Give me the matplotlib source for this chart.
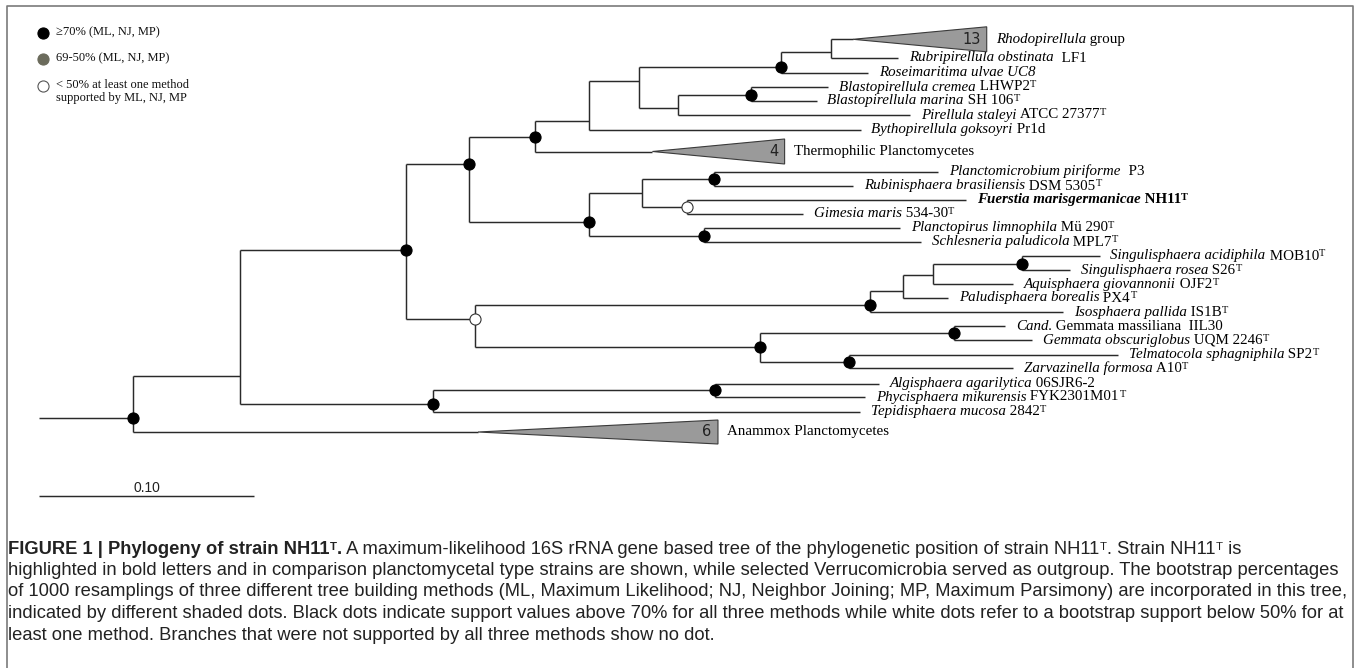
import matplotlib
matplotlib.use("Agg")
import matplotlib.pyplot as plt
from matplotlib.patches import Polygon

W, H = 1358, 668
UNIT = 2150.0   # pixels per substitution/site (0.10 bar = 215 px)
X0 = 39.0       # pixel where the root stem starts

# internal nodes: depth (subst./site from stem start), row, parent, bootstrap class
node_name = ["root", "n240", "n433", "n715", "n406", "n469", "n535", "n589a",
             "n639", "n781", "n831", "n678", "n751", "n589b", "n642", "n714",
             "n686", "n704", "n475", "n869", "n903", "n933", "n1021", "n760",
             "n954", "n849"]
node_depth = [0.0435, 0.0935, 0.1833, 0.3144, 0.1707, 0.2000, 0.2307, 0.2558,
              0.2791, 0.3451, 0.3684, 0.2972, 0.3312, 0.2558, 0.2805, 0.3140,
              0.3012, 0.3093, 0.2030, 0.3863, 0.4020, 0.4160, 0.4571, 0.3353,
              0.4256, 0.3767]
node_row = [417.5, 376, 403.5, 389.5, 250, 164.3, 136.7, 121,
            80.7, 66.7, 52.3, 108.3, 94.5, 221.7, 193.3, 179,
            207, 235.5, 318.5, 305.2, 291, 275, 263.6, 347,
            333.2, 361.5]
node_parent = [None, "root", "n240", "n433", "n240", "n406", "n469", "n535",
               "n589a", "n639", "n781", "n639", "n678", "n469", "n589b", "n642",
               "n642", "n589b", "n406", "n475", "n869", "n903", "n933", "n475",
               "n760", "n760"]
node_support = ["hi", "", "hi", "hi", "hi", "hi", "hi", "",
                "", "hi", "", "", "hi", "hi", "", "hi",
                "lo", "hi", "lo", "hi", "", "", "hi", "hi",
                "hi", "hi"]

# leaves
leaf_parent = ["n831", "n781", "n751", "n751", "n678", "n589a", "n714", "n714",
               "n686", "n686", "n704", "n704", "n1021", "n1021", "n933", "n903",
               "n869", "n954", "n954", "n849", "n849", "n715", "n715", "n433"]
leaf_row = [58, 73, 87, 100.5, 115, 129.5, 171.5, 186,
            199.5, 213.5, 227.8, 242, 256, 270.3, 284.2, 298,
            312.2, 326, 340.4, 354.6, 368, 383.5, 397, 411.5]
leaf_depth = [0.3997, 0.3857, 0.3671, 0.3617, 0.4053, 0.3821, 0.4183, 0.3786,
              0.4312, 0.3553, 0.4005, 0.4102, 0.4933, 0.4795, 0.4532, 0.4228,
              0.4763, 0.4493, 0.4619, 0.5019, 0.4530, 0.3907, 0.3842, 0.3819]
leaf_label = [
    [("Rubripirellula obstinata", "i"), ("  LF1", "r")],
    [("Roseimaritima ulvae UC8", "i")],
    [("Blastopirellula cremea", "i"), (" LHWP2", "r"), ("T", "sup")],
    [("Blastopirellula marina", "i"), (" SH 106", "r"), ("T", "sup")],
    [("Pirellula staleyi", "i"), (" ATCC 27377", "r"), ("T", "sup")],
    [("Bythopirellula goksoyri", "i"), (" Pr1d", "r")],
    [("Planctomicrobium piriforme", "i"), ("  P3", "r")],
    [("Rubinisphaera brasiliensis", "i"), (" DSM 5305", "r"), ("T", "sup")],
    [("Fuerstia marisgermanicae", "bi"), (" NH11", "b"), ("T", "supb")],
    [("Gimesia maris", "i"), (" 534-30", "r"), ("T", "sup")],
    [("Planctopirus limnophila", "i"), (" Mü 290", "r"), ("T", "sup")],
    [("Schlesneria paludicola", "i"), (" MPL7", "r"), ("T", "sup")],
    [("Singulisphaera acidiphila", "i"), (" MOB10", "r"), ("T", "sup")],
    [("Singulisphaera rosea", "i"), (" S26", "r"), ("T", "sup")],
    [("Aquisphaera giovannonii", "i"), (" OJF2", "r"), ("T", "sup")],
    [("Paludisphaera borealis", "i"), (" PX4", "r"), ("T", "sup")],
    [("Isosphaera pallida", "i"), (" IS1B", "r"), ("T", "sup")],
    [("Cand.", "i"), (" Gemmata massiliana  IIL30", "r")],
    [("Gemmata obscuriglobus", "i"), (" UQM 2246", "r"), ("T", "sup")],
    [("Telmatocola sphagniphila", "i"), (" SP2", "r"), ("T", "sup")],
    [("Zarvazinella formosa", "i"), (" A10", "r"), ("T", "sup")],
    [("Algisphaera agarilytica", "i"), (" 06SJR6-2", "r")],
    [("Phycisphaera mikurensis", "i"), (" FYK2301M01", "r"), ("T", "sup")],
    [("Tepidisphaera mucosa", "i"), (" 2842", "r"), ("T", "sup")],
]

# collapsed clades
clade_parent = ["n831", "n535", "root"]
clade_row = [39.3, 151.5, 432]
clade_apex = [0.3786, 0.2853, 0.2042]
clade_end = [0.4408, 0.3468, 0.3158]
clade_half = [12.5, 12.5, 12]
clade_count = ["13", "4", "6"]
clade_label = [
    [("Rhodopirellula", "i"), (" group", "r")],
    [("Thermophilic Planctomycetes", "r")],
    [("Anammox Planctomycetes", "r")],
]

legend_text = ["\u226570% (ML, NJ, MP)", "69-50% (ML, NJ, MP)",
               "< 50% at least one method\nsupported by ML, NJ, MP"]
legend_face = ["black", "#6b6b5c", "white"]

caption_lines = [
    "highlighted in bold letters and in comparison planctomycetal type strains are shown, while selected Verrucomicrobia served as outgroup. The bootstrap percentages",
    "of 1000 resamplings of three different tree building methods (ML, Maximum Likelihood; NJ, Neighbor Joining; MP, Maximum Parsimony) are incorporated in this tree,",
    "indicated by different shaded dots. Black dots indicate support values above 70% for all three methods while white dots refer to a bootstrap support below 50% for at",
    "least one method. Branches that were not supported by all three methods show no dot.",
]

LBL = 10.8
CAP = 13.2
styles = {
    "i": dict(family="Liberation Serif", style="italic", size=LBL),
    "r": dict(family="Liberation Serif", size=LBL),
    "b": dict(family="Liberation Serif", weight="bold", size=LBL),
    "bi": dict(family="Liberation Serif", weight="bold", style="italic", size=LBL),
    "sup": dict(family="Liberation Serif", size=7.5),
    "supb": dict(family="Liberation Serif", weight="bold", size=7.5),
    "c": dict(family="Liberation Sans", size=CAP, color="#222222"),
    "cb": dict(family="Liberation Sans", weight="bold", size=CAP, color="#222222"),
    "csup": dict(family="Liberation Sans", size=CAP * 0.62, color="#222222"),
    "csupb": dict(family="Liberation Sans", weight="bold", size=CAP * 0.62, color="#222222"),
}


def put_text(axis, x, y, parts, gap, rise=3.0):
    prev = base = None
    for txt, st in parts:
        kw = styles[st]
        sup = st.endswith("sup") or st.endswith("supb")
        if prev is None:
            t = axis.annotate(txt, xy=(x, y), xytext=(gap, 0), textcoords="offset points",
                              ha="left", va="center", annotation_clip=False, **kw)
        elif sup:
            t = axis.annotate(txt, xy=(1, 0), xycoords=(prev, base), xytext=(0.3, rise),
                              textcoords="offset points", ha="left", va="bottom", **kw)
        else:
            t = axis.annotate(txt, xy=(1, 0), xycoords=(prev, base), ha="left", va="bottom", **kw)
        if not sup:
            base = t
        prev = t


fig = plt.figure(figsize=(W / 100, H / 100), dpi=100)
lay = fig.add_axes([0, 0, 1, 1])
lay.set_xlim(0, W)
lay.set_ylim(H, 0)
lay.axis("off")
ax = fig.add_axes([0, 0, 1, 1])
ax.set_xlim(-X0 / UNIT, (W - X0) / UNIT)
ax.set_ylim(H, 0)
ax.axis("off")
ax.patch.set_alpha(0)

LC = "#2a2a2a"
LW = 1.05
depth = dict(zip(node_name, node_depth))
row = dict(zip(node_name, node_row))

# vertical bars of internal nodes
for name in node_name:
    rows = [row[n] for n, p in zip(node_name, node_parent) if p == name]
    rows += [r for r, p in zip(leaf_row, leaf_parent) if p == name]
    rows += [r for r, p in zip(clade_row, clade_parent) if p == name]
    ax.plot([depth[name]] * 2, [min(rows), max(rows)], color=LC, lw=LW, solid_capstyle="butt")

# horizontal branches to internal nodes
for name, par in zip(node_name, node_parent):
    start = 0.0 if par is None else depth[par]
    ax.plot([start, depth[name]], [row[name]] * 2, color=LC, lw=LW, solid_capstyle="butt")

# leaves
for par, r, d, lab in zip(leaf_parent, leaf_row, leaf_depth, leaf_label):
    ax.plot([depth[par], d], [r, r], color=LC, lw=LW, solid_capstyle="butt")
    put_text(ax, d, r, lab, gap=7.8)

# collapsed clades
for par, r, a, e, hh, cnt, lab in zip(clade_parent, clade_row, clade_apex, clade_end,
                                      clade_half, clade_count, clade_label):
    ax.plot([depth[par], a], [r, r], color=LC, lw=LW, solid_capstyle="butt")
    ax.add_patch(Polygon([(a, r), (e, r - hh), (e, r + hh)], closed=True,
                         facecolor="#9a9a9a", edgecolor="#3a3a3a", lw=0.8, zorder=3))
    ax.annotate(cnt, xy=(e, r), xytext=(-4.5, 0), textcoords="offset points",
                ha="right", va="center", family="DejaVu Sans", size=10.5, color="#222222", zorder=4)
    put_text(ax, e, r, lab, gap=6.5)

# bootstrap dots
for name, sup in zip(node_name, node_support):
    if sup:
        face = "black" if sup == "hi" else "white"
        ax.plot(depth[name], row[name], "o", ms=8, mfc=face, mec="#333333" if sup == "lo" else "black",
                mew=0.8, zorder=6)

# scale bar
ax.plot([0, 0.10], [496, 496], color=LC, lw=LW, solid_capstyle="butt")
ax.text(0.05, 487.5, "0.10", ha="center", va="center", family="Liberation Sans", size=10, color="#222222")

# legend
for i, (txt, face) in enumerate(zip(legend_text, legend_face)):
    y = [33, 59, 86][i]
    lay.plot(43, y, "o", ms=8, mfc=face, mec="#555555" if face == "white" else face, mew=0.8)
    lay.text(56, y - 6.8, txt, ha="left", va="top", family="Liberation Serif", size=9.0,
             linespacing=1.05, color="#111111")

# frame
lay.plot([7, 7, W - 5, W - 5], [H, 6, 6, H], color="#7a7a7a", lw=1.2)

# caption
put_text(lay, 8, 549, [("FIGURE 1 | Phylogeny of strain NH11", "cb"), ("T", "csupb"), (".", "cb"),
                       (" A maximum-likelihood 16S rRNA gene based tree of the phylogenetic position of strain NH11", "c"),
                       ("T", "csup"), (". Strain NH11", "c"), ("T", "csup"), (" is", "c")],
         gap=0, rise=4.2)
for k, line in enumerate(caption_lines):
    lay.text(8, 570.5 + 21.5 * k, line, ha="left", va="center", **styles["c"])

fig.savefig("out.png", dpi=100)
